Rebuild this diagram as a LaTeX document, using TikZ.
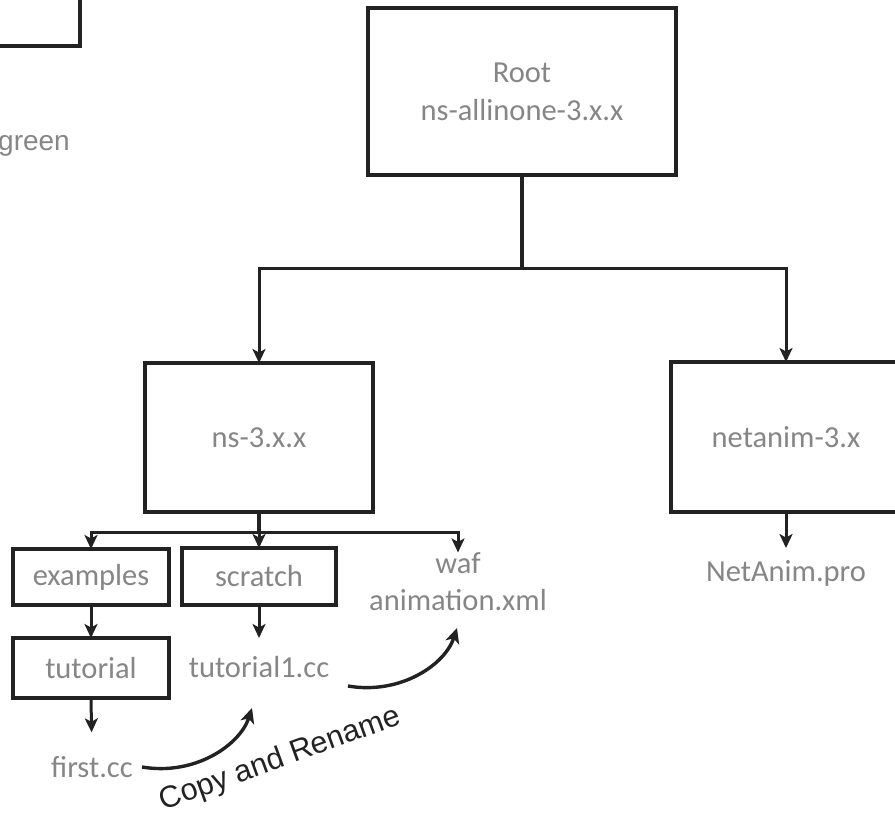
\documentclass[tikz,border=0pt]{standalone}
\usepackage{fontspec}
\setmainfont{Carlito}
\newfontfamily\arialfont{Liberation Sans}
\usetikzlibrary{arrows.meta}
\definecolor{txtgray}{HTML}{868686}
\definecolor{linec}{HTML}{222222}
\begin{document}
\begin{tikzpicture}[x=1pt,y=-1pt,
  box/.style={draw=linec,line width=3.6pt,inner sep=0pt,outer sep=0pt,text=txtgray,
    font=\fontsize{30.5}{38}\selectfont,align=center},
  lbl/.style={text=txtgray,inner sep=0pt,outer sep=0pt,font=\fontsize{30.5}{38}\selectfont,align=center},
  ln/.style={draw=linec,line width=3.2pt},
  arr/.style={draw=linec,line width=3pt,line join=miter,-{Stealth[length=14pt,width=13pt,inset=3.5pt]}},
  carr/.style={draw=linec,line width=3.4pt,-{Stealth[length=15pt,width=14pt,inset=4pt]}}]
\useasboundingbox (0,0) rectangle (895,813);
\clip (0,0) rectangle (895,813);
\fill[white] (0,0) rectangle (895,813);

% partial legend at top left
\draw[draw=linec,line width=3.6pt] (-30,-30) rectangle (80,46);
\node[text=txtgray,inner sep=0pt,anchor=base east,font=\arialfont\fontsize{28}{30}\selectfont] (green) at (70,151) {green};

% boxes
\node[box,minimum width=308pt,minimum height=167pt] (root) at (522,91.5) {Root\\ns-allinone-3.x.x};
\node[box,minimum width=228pt,minimum height=149pt] (ns3) at (259,437.5) {ns-3.x.x};
\node[box,minimum width=230pt,minimum height=150pt] (netanim) at (786,437) {netanim-3.x};
\node[box,minimum width=156pt,minimum height=56pt] (examples) at (91,577) {examples};
\node[box,minimum width=154pt,minimum height=57pt] (scratch) at (259,576.5) {scratch};
\node[box,minimum width=156pt,minimum height=60pt] (tutorial) at (91,668) {tutorial};

% text nodes
\node[lbl] (waf) at (458,563) {waf};
\node[lbl] (anim) at (458,600) {animation.xml};
\node[lbl] (tut1) at (259,667) {tutorial1.cc};
\node[lbl] (first) at (92,767) {first.cc};
\node[lbl] (netpro) at (786,573) {NetAnim.pro};

% branch points
\coordinate (rootbr) at (522,269);
\coordinate (nsbr) at (259,532);

% connectors
\draw[ln] (root.south) -- (rootbr);
\draw[arr] (rootbr) -| (ns3.north);
\draw[arr] (rootbr) -| (netanim.north);
\draw[ln,line width=3.8pt] (ns3.south) -- (nsbr);
\draw[arr] (nsbr) -| (examples.north);
\draw[arr] (nsbr) -- (scratch.north);
\draw[arr] (nsbr) -| (waf.north);
\draw[arr] (examples.south) -- (tutorial.north);
\draw[arr] (scratch.south) -- (scratch.south |- tutorial.north);
\draw[arr,shorten >=24pt] (tutorial.south) -- (first.north);
\draw[arr,shorten >=12pt] (netanim.south) -- (netpro.north);

% copy and rename curves
\coordinate (c1s) at (142,767);
\coordinate (c1e) at (252,708);
\coordinate (c2s) at (348,686);
\coordinate (c2e) at (457,628);
\draw[carr] (c1s) .. controls (195,776) and (240,745) .. (c1e);
\draw[carr] (c2s) .. controls (400,695) and (445,665) .. (c2e);
\node[text=linec,inner sep=0pt,rotate=20,anchor=base,font=\arialfont\fontsize{30.5}{32}\selectfont] (copy) at (283,767) {Copy and Rename};
\end{tikzpicture}
\end{document}
